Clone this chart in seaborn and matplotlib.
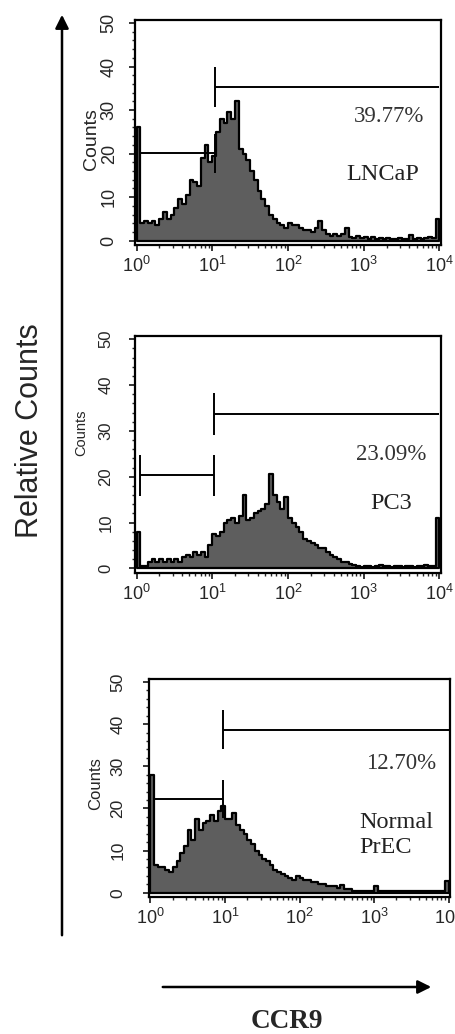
import numpy as np
import pandas as pd
import matplotlib
matplotlib.use('Agg')
import matplotlib.pyplot as plt
from matplotlib.ticker import MultipleLocator, FixedLocator
import seaborn as sns

# channel counts, 80 channels of 0.05 decade each (10^0 .. 10^4)
lncap_counts = [26, 4, 4.5, 4, 4.5, 3.5, 5, 6.5, 5, 6,
                7.5, 9.5, 8.5, 10.5, 14, 13.5, 12.5, 19, 22, 18,
                19.5, 25, 28, 27, 29.5, 28, 32, 21, 20, 18.5,
                16, 14, 11.5, 9.5, 8, 6, 5, 4, 3.5, 3,
                4, 3.5, 3.5, 3, 2.5, 2.5, 2, 3, 4.5, 2.5,
                1.5, 1, 1.5, 1, 1.5, 3, 0.8, 0.5, 1, 0.5,
                0.8, 0.3, 0.8, 0.3, 0.5, 0.3, 0.5, 0.3, 0.3, 0.5,
                0.3, 0.3, 1.2, 0.3, 0.5, 0.3, 0.5, 0.8, 0.5, 5]
pc3_counts = [8, 0.5, 0.5, 1.5, 2, 1.5, 2, 1.5, 2, 1.5,
              2, 1.5, 2.5, 3, 2.5, 3.5, 3, 3.5, 2.5, 5,
              7.5, 7, 8, 10, 10.5, 11, 10, 11.5, 16, 10.5,
              11, 12, 12.5, 13, 14, 20.5, 16, 14.5, 13, 15.5,
              11, 10, 9, 8, 6.5, 6, 5.5, 5, 4.5, 4.5,
              3.5, 3, 2.5, 2, 1.5, 1.5, 1, 0.8, 0.5, 0.3,
              0.5, 0.5, 0.3, 0.5, 0.8, 0.5, 0.5, 0.3, 0.5, 0.5,
              0.3, 0.5, 0.5, 0.3, 0.5, 0.5, 0.8, 0.5, 0.5, 11]
prec_counts = [28, 6.5, 6, 6, 5.5, 5, 6, 7.5, 9.5, 11,
               15, 12.5, 17.5, 15, 16.5, 17, 18.5, 17, 19.5, 20.5,
               17.5, 17.5, 19, 16, 15, 14, 12.5, 11.5, 10, 9,
               8, 7.5, 6.5, 5.5, 5, 4.5, 4, 3.5, 3, 4,
               3.5, 3, 3, 2.5, 2.5, 2, 2, 1.5, 1.5, 1.5,
               1.2, 1.8, 1, 0.8, 0.5, 0.5, 0.5, 0.5, 0.5, 0.5,
               1.5, 0.5, 0.5, 0.5, 0.5, 0.5, 0.5, 0.5, 0.5, 0.5,
               0.5, 0.5, 0.5, 0.5, 0.5, 0.5, 0.5, 0.5, 0.5, 2.8]

panel_names = ['LNCaP', 'PC3', 'Normal\nPrEC']
gate_pcts = ['39.77%', '23.09%', '12.70%']
# gate markers: split point (fluorescence) and bar heights (counts)
gate_split = [10.8, 10.7, 9.4]
gate_start = [1.1, 1.1, 1.1]
gate_end = [10000, 10000, 10000]
right_gate_y = [35.3, 33.6, 38.7]
left_gate_y = [20.1, 20.3, 22.3]
xtick_labels = ['$10^{0}$', '$10^{1}$', '$10^{2}$', '$10^{3}$', '$10^{4}$']

sns.set_style('ticks')
plt.rcParams['font.family'] = ['Liberation Sans', 'DejaVu Sans']
plt.rcParams['mathtext.fontset'] = 'custom'
plt.rcParams['mathtext.rm'] = 'Liberation Sans'
plt.rcParams['mathtext.default'] = 'regular'

W, H = 456, 1034
fig = plt.figure(figsize=(W / 100, H / 100), dpi=100)

# axes boxes in pixels: left, top, right, bottom
boxes = [(135, 20, 441, 245), (135, 336, 441, 573), (149, 679, 450, 897)]
ytick_pad = [8, 11, 12.5]
ytick_size = [13, 12, 12.5]
counts_size = [14, 10.5, 12]
counts_x = [100, 88, 103]
counts_y = [0.47, 0.59, 0.52]

edges = [round(0.05 * k, 2) for k in range(81)]
centers = [e + 0.025 for e in edges[:-1]]
minor_x = [d + np.log10(k) for d in range(4) for k in range(2, 10)]

all_counts = [lncap_counts, pc3_counts, prec_counts]
txt_pos = [((3.34, 28.5), (3.25, 15.2)),
           ((3.36, 24.9), (3.36, 14.2)),
           ((3.36, 30.7), (3.30, 13.8))]

for i, counts in enumerate(all_counts):
    l, t, r, b = boxes[i]
    ax = fig.add_axes([l / W, 1 - b / H, (r - l) / W, (b - t) / H])
    df = pd.DataFrame({'channel': centers, 'count': counts})
    sns.histplot(data=df, x='channel', weights='count', bins=edges, element='step',
                 fill=True, color='#5e5e5e', edgecolor='black', linewidth=1.6,
                 alpha=1, ax=ax)

    # gate markers
    s = np.log10(gate_split[i])
    x0 = np.log10(gate_start[i])
    x1 = np.log10(gate_end[i])
    ax.hlines(right_gate_y[i], s, x1, color='black', lw=1.4)
    ax.vlines(s, right_gate_y[i] - 4.6, right_gate_y[i] + 4.6, color='black', lw=1.4)
    ax.hlines(left_gate_y[i], x0, s, color='black', lw=1.4)
    ax.vlines([x0, s], left_gate_y[i] - 4.5, left_gate_y[i] + 4.5, color='black', lw=1.4)

    (px, py), (nx, ny) = txt_pos[i]
    ax.text(px, py, gate_pcts[i], ha='center', va='center', fontsize=16.5,
            family='Liberation Serif', color='#333333')
    ax.text(nx, ny, panel_names[i], ha='center', va='center', fontsize=17.5,
            family='Liberation Serif', color='#222222', linespacing=1.25,
            multialignment='left')

    ax.set_xlim(-0.02, 4.02)
    ax.set_ylim(-1, 50.7)
    ax.set_xticks(range(5))
    ax.set_xticklabels(xtick_labels, fontsize=13)
    ax.xaxis.set_minor_locator(FixedLocator(minor_x))
    ax.set_yticks(range(0, 51, 10))
    ax.yaxis.set_minor_locator(MultipleLocator(2))
    ax.tick_params(axis='y', which='major', labelsize=ytick_size[i], rotation=90,
                   pad=ytick_pad[i], length=4.5, width=1.3)
    ax.tick_params(axis='x', which='major', length=4.5, width=1.3, pad=3)
    ax.tick_params(which='minor', length=2.5, width=1)
    for lab in ax.get_yticklabels():
        lab.set_va('center')
    ax.set_xlabel('')
    ax.set_ylabel('Counts', fontsize=counts_size[i])
    ax.yaxis.set_label_coords((counts_x[i] - l) / (r - l), counts_y[i])
    for sp in ax.spines.values():
        sp.set_linewidth(1.6)
        sp.set_color('black')

# big axis arrows and labels
fig.text(30 / W, 1 - 431 / H, 'Relative Counts', rotation=90, ha='center', va='center',
         fontsize=22, family='Liberation Sans')
plt.annotate('', xy=(62, H - 12), xytext=(62, H - 938), xycoords='figure pixels',
             arrowprops=dict(arrowstyle='-|>', lw=1.8, color='black', mutation_scale=20))
plt.annotate('', xy=(434, H - 987), xytext=(160, H - 987), xycoords='figure pixels',
             arrowprops=dict(arrowstyle='-|>', lw=1.8, color='black', mutation_scale=20))
fig.text(287 / W, 1 - 1022 / H, 'CCR9', ha='center', va='center', fontsize=19.5,
         family='Liberation Serif', weight='bold')

fig.savefig('out.png', dpi=100)
